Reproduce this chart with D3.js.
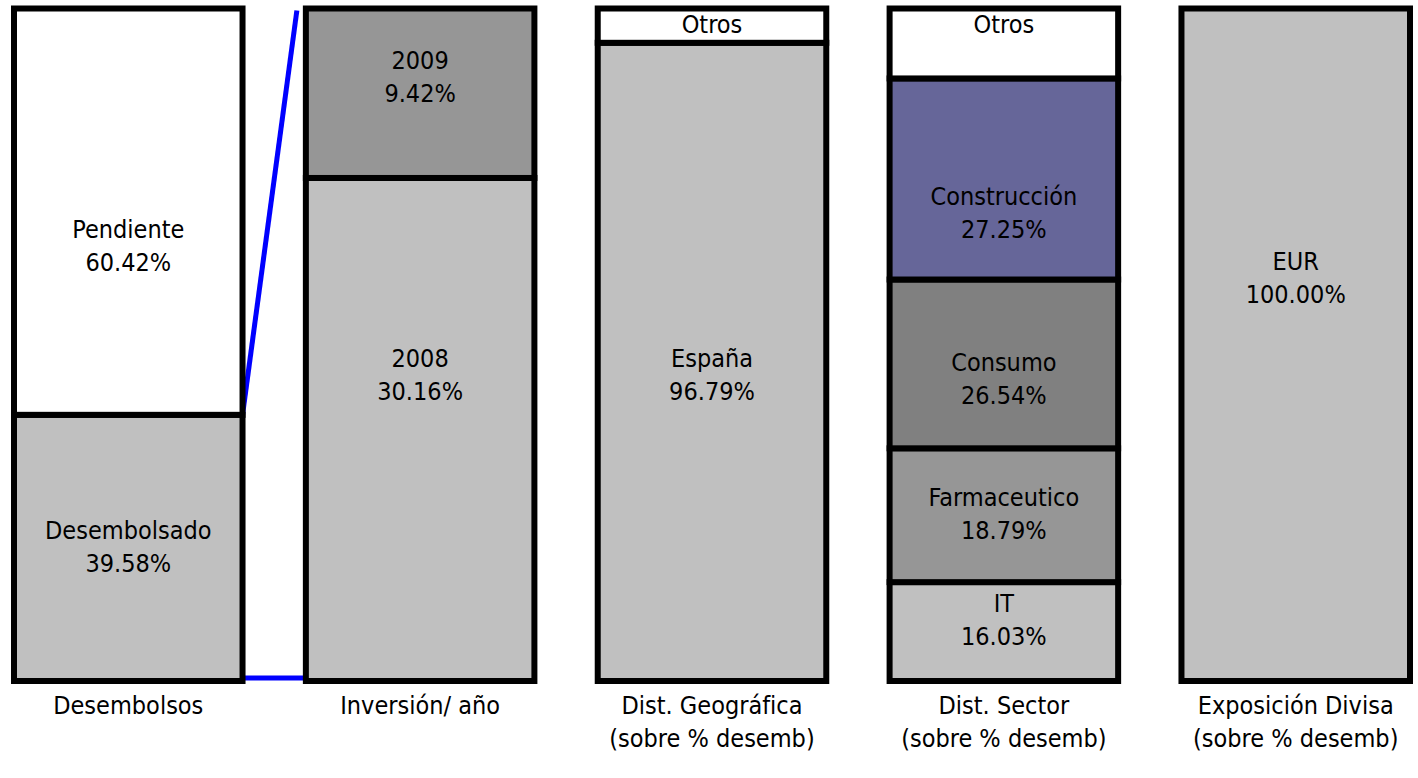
<!DOCTYPE html>
<html lang="es">
<head>
<meta charset="utf-8">
<title>Desembolsos</title>
<script src="https://cdn.jsdelivr.net/npm/d3@7"></script>
<style>
  body { margin: 0; background: #fff; }
  svg { display: block; font-family: "DejaVu Sans Condensed", "DejaVu Sans", sans-serif; }
  .seg { stroke: #000; stroke-width: 6px; }
  .seg-label, .cat-label { font-size: 25px; fill: #000; text-anchor: middle; }
  .serie-line { fill: none; stroke: #0000ff; stroke-width: 5px; }
</style>
</head>
<body>
<div id="chart"></div>
<script>
// categorias (una barra por categoria) y subtitulos
var categories = ["Desembolsos", "Inversión/ año", "Dist. Geográfica", "Dist. Sector", "Exposición Divisa"];
var subtitles  = ["", "", "(sobre % desemb)", "(sobre % desemb)", "(sobre % desemb)"];

// segmentos de abajo a arriba: nombre, altura (% de la barra), etiqueta, centro de la etiqueta (%)
var desembNames  = ["Desembolsado", "Pendiente"];
var desembValues = [39.58, 60.42];
var desembPct    = ["39.58%", "60.42%"];
var desembAt     = [20.1, 64.8];

var invNames  = ["2008", "2009"];
var invValues = [74.8, 25.2];
var invPct    = ["30.16%", "9.42%"];
var invAt     = [45.7, 90.0];

var geoNames  = ["España", "Otros"];
var geoValues = [94.9, 5.1];
var geoPct    = ["96.79%", ""];
var geoAt     = [45.7, 97.8];

var sectorNames  = ["IT", "Farmaceutico", "Consumo", "Construcción", "Otros"];
var sectorValues = [14.7, 19.9, 25.1, 29.9, 10.4];
var sectorPct    = ["16.03%", "18.79%", "26.54%", "27.25%", ""];
var sectorAt     = [9.2, 25.0, 45.1, 69.7, 97.8];

var divisaNames  = ["EUR"];
var divisaValues = [100];
var divisaPct    = ["100.00%"];
var divisaAt     = [60.1];

// colores por barra
var desembColors = ["#c0c0c0", "#ffffff"];
var invColors    = ["#c0c0c0", "#969696"];
var geoColors    = ["#c0c0c0", "#ffffff"];
var sectorColors = ["#c0c0c0", "#969696", "#808080", "#666699", "#ffffff"];
var divisaColors = ["#c0c0c0"];

var bars = [
  [desembNames, desembValues, desembPct, desembAt, desembColors],
  [invNames, invValues, invPct, invAt, invColors],
  [geoNames, geoValues, geoPct, geoAt, geoColors],
  [sectorNames, sectorValues, sectorPct, sectorAt, sectorColors],
  [divisaNames, divisaValues, divisaPct, divisaAt, divisaColors]
].map(function(b, i) {
  var top = d3.cumsum(b[1]);
  return {
    cat: categories[i],
    segs: b[0].map(function(n, j) {
      return { name: n, y0: top[j] - b[1][j], y1: top[j], pct: b[2][j], at: b[3][j], color: b[4][j] };
    })
  };
});

var width = 1418,
    height = 778;

var x = d3.scaleBand()
    .domain(categories)
    .range([14, 1410])
    .paddingInner(0.217)
    .paddingOuter(0);

var y = d3.scaleLinear()
    .domain([0, 100])
    .range([681, 8.5]);

var svg = d3.select("#chart").append("svg")
    .attr("width", width)
    .attr("height", height);

// lineas de serie entre la barra 1 y la barra 2
var line = d3.line();
var x1 = x(categories[0]) + x.bandwidth(),
    x2 = x(categories[1]);
svg.append("path")
    .attr("class", "serie-line")
    .attr("d", line([[x1, y(desembValues[0])], [x2 - 9, y(100) + 2]]));
svg.append("path")
    .attr("class", "serie-line")
    .attr("d", line([[x1, y(0) - 3], [x2, y(0) - 3]]));

var bar = svg.selectAll("g.bar")
    .data(bars)
  .enter().append("g")
    .attr("class", "bar")
    .attr("transform", function(d) { return "translate(" + x(d.cat) + ",0)"; });

bar.selectAll("rect")
    .data(function(d) { return d.segs; })
  .enter().append("rect")
    .attr("class", "seg")
    .attr("x", 0)
    .attr("width", x.bandwidth())
    .attr("y", function(d) { return y(d.y1); })
    .attr("height", function(d) { return y(d.y0) - y(d.y1); })
    .attr("fill", function(d) { return d.color; });

var lab = bar.selectAll("text")
    .data(function(d) { return d.segs; })
  .enter().append("text")
    .attr("class", "seg-label")
    .attr("x", x.bandwidth() / 2);

lab.each(function(d) {
  var t = d3.select(this), cy = y(d.at);
  if (d.pct) {
    t.append("tspan").attr("x", x.bandwidth() / 2).attr("y", cy - 7).text(d.name);
    t.append("tspan").attr("x", x.bandwidth() / 2).attr("y", cy + 26).text(d.pct);
  } else {
    t.append("tspan").attr("x", x.bandwidth() / 2).attr("y", cy + 9.5).text(d.name);
  }
});

// etiquetas de categoria
var cat = svg.selectAll("text.cat-label")
    .data(categories)
  .enter().append("text")
    .attr("class", "cat-label")
    .attr("x", function(d) { return x(d) + x.bandwidth() / 2; });
cat.append("tspan")
    .attr("x", function(d) { return x(d) + x.bandwidth() / 2; })
    .attr("y", y(0) + 33)
    .text(function(d) { return d; });
cat.append("tspan")
    .attr("x", function(d) { return x(d) + x.bandwidth() / 2; })
    .attr("y", y(0) + 66)
    .text(function(d, i) { return subtitles[i]; });
</script>
</body>
</html>
